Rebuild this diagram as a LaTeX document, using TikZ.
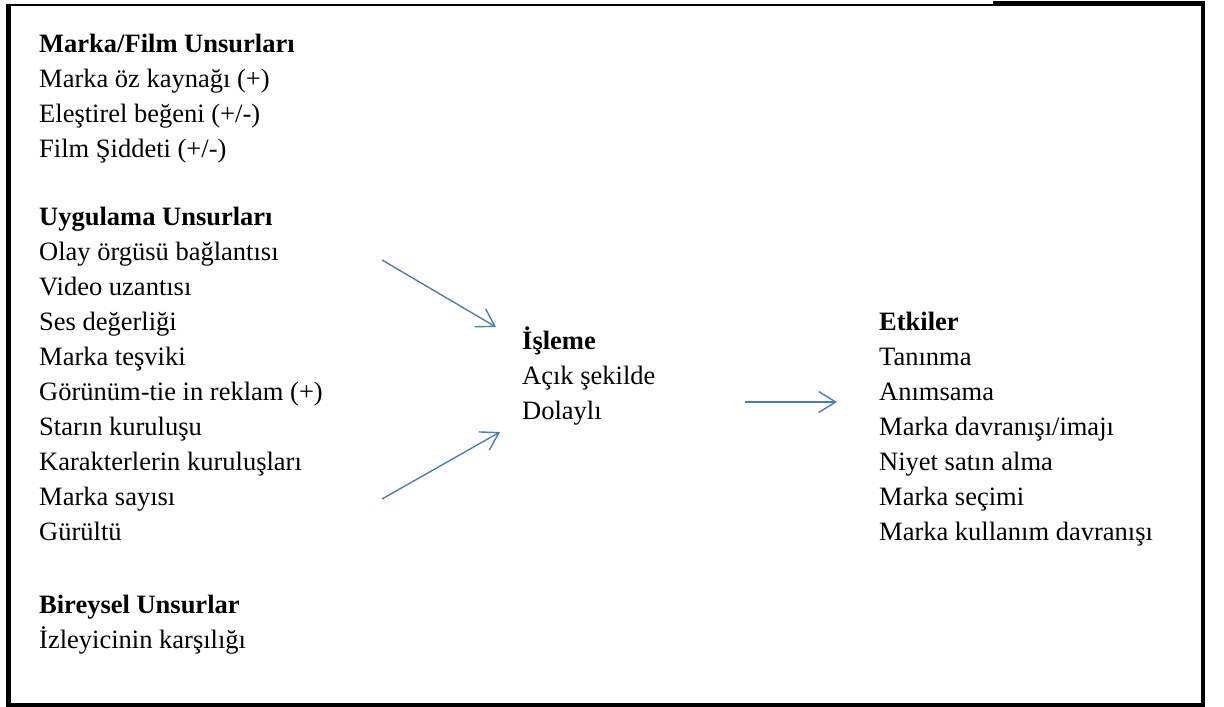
\documentclass[tikz,border=0pt]{standalone}
\usepackage{fontspec}
\setmainfont{Liberation Serif}
\usetikzlibrary{arrows.meta, positioning}

\begin{document}
\begin{tikzpicture}[x=1pt,y=-1pt,
        grp/.style={anchor=north west, inner sep=0pt, align=left,
                font=\fontsize{26.5}{35}\selectfont},
        flow/.style={draw=arrowblue, line width=1.4pt,
                -{Straight Barb[length=17pt,width=21pt,line width=1.4pt]}}]
        \definecolor{arrowblue}{HTML}{4A7EBB}
        \useasboundingbox (0,0) rectangle (1224,707);
        % frame
        \draw[line width=4.5pt] (993,3.5) -| (1203,705.5) -| (8.5,3.5);
        \draw[line width=2.5pt] (8.5,5) -- (993,5);
        % left column (top of strut = baseline - 24.5)
        \node[grp] (brand) at (39,27.5) {\strut\textbf{Marka/Film Unsurları}\\
                Marka öz kaynağı (+)\\ Eleştirel beğeni (+/-)\\ Film Şiddeti (+/-)};
        \node[grp] (exec) at (39,200.5) {\strut\textbf{Uygulama Unsurları}\\
                Olay örgüsü bağlantısı\\ Video uzantısı\\ Ses değerliği\\
                Marka teşviki\\ Görünüm-tie in reklam (+)\\ Starın kuruluşu\\
                Karakterlerin kuruluşları\\ Marka sayısı\\ Gürültü};
        \node[grp] (indiv) at (39,588.5) {\strut\textbf{Bireysel Unsurlar}\\
                İzleyicinin karşılığı};
        % middle and right
        \node[grp] (proc) at (522,324.5) {\strut\textbf{İşleme}\\ Açık şekilde\\ Dolaylı};
        \node[grp] (eff) at (879,306) {\strut\textbf{Etkiler}\\ Tanınma\\ Anımsama\\
                Marka davranışı/imajı\\ Niyet satın alma\\ Marka seçimi\\
                Marka kullanım davranışı};
        \coordinate (exec-top) at (382,260);
        \coordinate (exec-bot) at (382,499);
        \coordinate (proc-in1) at (496,327);
        \coordinate (proc-in2) at (500,432);
        \coordinate (proc-out) at (745,402);
        \coordinate (eff-in) at (837,402);
        \draw[flow] (exec-top) -- (proc-in1);
        \draw[flow] (exec-bot) -- (proc-in2);
        \draw[flow] (proc-out) -- (eff-in);
\end{tikzpicture}
\end{document}
